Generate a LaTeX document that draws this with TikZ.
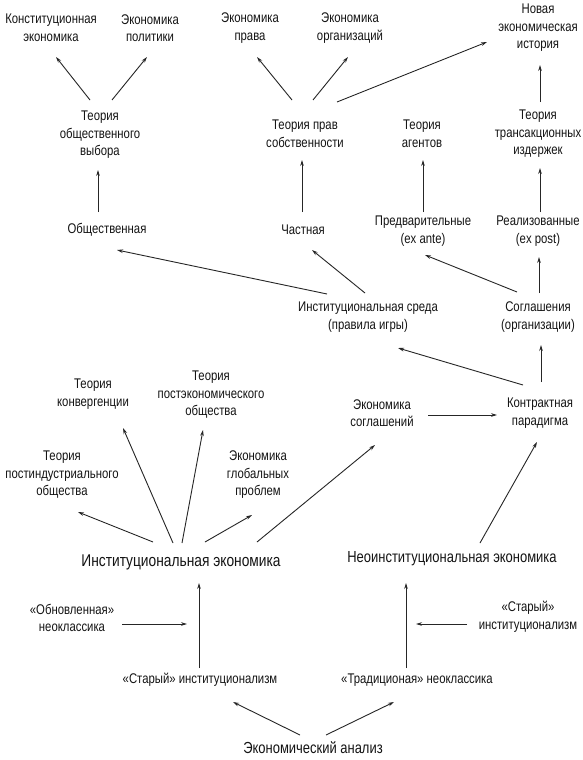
\documentclass[tikz,border=0pt]{standalone}
\usepackage{fontspec}
\setmainfont{Liberation Sans}[FakeStretch=0.81]
\usetikzlibrary{arrows.meta}
\begin{document}
\begin{tikzpicture}[x=1pt,y=-1pt,
  lbl/.style={inner sep=0pt,align=center,text=black!92,font=\fontsize{14}{17.5}\selectfont},
  big/.style={inner sep=0pt,align=center,text=black!92,font=\fontsize{16}{19}\selectfont},
  arr/.style={draw=black!85,line width=0.9pt,-{Stealth[length=6pt,width=3.6pt]}}]
\useasboundingbox (0,0) rectangle (582,760);
\fill[white] (0,0) rectangle (582,760);
% top row
\node[lbl] (konst) at (51,28) {Конституционная\\экономика};
\node[lbl] (polit) at (150,28) {Экономика\\политики};
\node[lbl] (prava) at (250,28) {Экономика\\права};
\node[lbl] (org) at (350,28) {Экономика\\организаций};
\node[lbl] (nei) at (538,28) {Новая\\экономическая\\история};
% theories
\node[lbl] (tow) at (100,135) {Теория\\общественного\\выбора};
\node[lbl] (tps) at (305,134) {Теория прав\\собственности};
\node[lbl] (ta) at (422,134) {Теория\\агентов};
\node[lbl] (tti) at (538,134) {Теория\\трансакционных\\издержек};
% row 3
\node[lbl] (obsh) at (107,230) {Общественная};
\node[lbl] (chast) at (303,230) {Частная};
\node[lbl] (pred) at (423,231) {Предварительные\\(ex ante)};
\node[lbl] (real) at (538,231) {Реализованные\\(ex post)};
% row 4
\node[lbl] (isr) at (368,317) {Институциональная среда\\(правила игры)};
\node[lbl] (sogl) at (538,317) {Соглашения\\(организации)};
% row 5
\node[lbl] (tk) at (93,394) {Теория\\конвергенции};
\node[lbl] (tpe) at (211,395) {Теория\\постэкономического\\общества};
\node[lbl] (es) at (382,413) {Экономика\\соглашений};
\node[lbl] (kp) at (540,413) {Контрактная\\парадигма};
% row 6
\node[lbl] (tpo) at (62,475) {Теория\\постиндустриального\\общества};
\node[lbl] (egp) at (258,475) {Экономика\\глобальных\\проблем};
% main
\node[big,font=\fontsize{17}{20}\selectfont] (ie) at (181,562) {Институциональная экономика};
\node[big] (nie) at (452,559) {Неоинституциональная экономика};
\node[lbl] (obn) at (72,618) {«Обновленная»\\неоклассика};
\node[lbl] (sir) at (528,617) {«Старый»\\институционализм};
\node[lbl] (sil) at (200,680) {«Старый» институционализм};
\node[lbl] (tn) at (417,680) {«Традиционая» неоклассика};
\node[big] (ea) at (313,748) {Экономический анализ};
\coordinate (jl) at (187,624);
\coordinate (jr) at (416,624);
% connectors
\draw[arr] ([shift={(-10,-35)}]tow.center) -- ([shift={(5,29)}]konst.center);
\draw[arr] ([shift={(12,-35)}]tow.center) -- ([shift={(-3,29)}]polit.center);
\draw[arr] ([shift={(-13,-34)}]tps.center) -- ([shift={(7,29)}]prava.center);
\draw[arr] ([shift={(8,-34)}]tps.center) -- ([shift={(-2,29)}]org.center);
\draw[arr] ([shift={(32,-32)}]tps.center) -- ([shift={(-51,14)}]nei.center);
\draw[arr] ([shift={(2,-32)}]tti.center) -- ([shift={(2,37)}]nei.center);
\draw[arr] ([shift={(-9,-18)}]obsh.center) -- ([shift={(-2,35)}]tow.center);
\draw[arr] ([shift={(-1,-18)}]chast.center) -- ([shift={(-3,26)}]tps.center);
\draw[arr] ([shift={(0,-19)}]pred.center) -- ([shift={(1,26)}]ta.center);
\draw[arr] ([shift={(2,-19)}]real.center) -- ([shift={(2,34)}]tti.center);
\draw[arr] ([shift={(-41,-23)}]isr.center) -- ([shift={(10,20)}]obsh.center);
\draw[arr] ([shift={(-3,-24)}]isr.center) -- ([shift={(9,20)}]chast.center);
\draw[arr] ([shift={(-21,-25)}]sogl.center) -- ([shift={(2,24)}]pred.center);
\draw[arr] ([shift={(1,-24)}]sogl.center) -- ([shift={(1,26)}]real.center);
\draw[arr] ([shift={(-17,-28)}]kp.center) -- ([shift={(30,31)}]isr.center);
\draw[arr] ([shift={(1,-31)}]kp.center) -- ([shift={(3,28)}]sogl.center);
\draw[arr] ([shift={(46,2)}]es.center) -- ([shift={(-43,2)}]kp.center);
\draw[arr] ([shift={(-8,-19)}]ie.center) -- ([shift={(30,34)}]tk.center);
\draw[arr] ([shift={(1,-19)}]ie.center) -- ([shift={(-8,35)}]tpe.center);
\draw[arr] ([shift={(-28,-20)}]ie.center) -- ([shift={(16,37)}]tpo.center);
\draw[arr] ([shift={(24,-20)}]ie.center) -- ([shift={(-6,40)}]egp.center);
\draw[arr] ([shift={(76,-20)}]ie.center) -- ([shift={(-7,32)}]es.center);
\draw[arr] ([shift={(28,-16)}]nie.center) -- ([shift={(-3,29)}]kp.center);
\draw[arr] ([shift={(-1,-12)}]sil.center) -- ([shift={(18,21)}]ie.center);
\draw[arr] ([shift={(-11,-12)}]tn.center) -- ([shift={(-46,24)}]nie.center);
\draw[arr] ([shift={(50,6)}]obn.center) -- (jl);
\draw[arr] ([shift={(-61,7)}]sir.center) -- (jr);
\draw[arr] ([shift={(-13,-13)}]ea.center) -- ([shift={(33,22)}]sil.center);
\draw[arr] ([shift={(13,-13)}]ea.center) -- ([shift={(-23,22)}]tn.center);
\end{tikzpicture}
\end{document}
